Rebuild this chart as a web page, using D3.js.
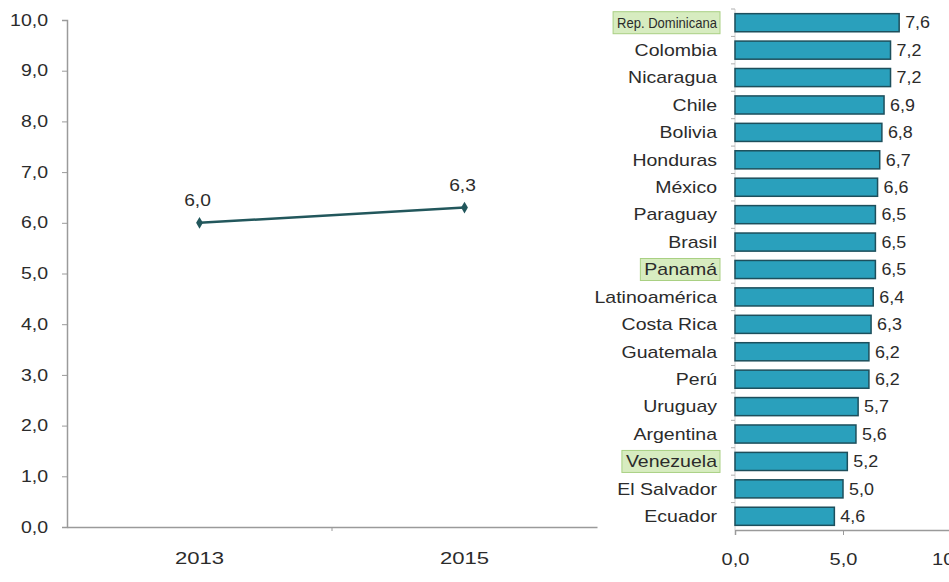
<!DOCTYPE html>
<html>
<head>
<meta charset="utf-8">
<script src="https://cdn.jsdelivr.net/npm/d3@7"></script>
<style>
  body { margin: 0; background: #fff; }
  svg { font-family: "Liberation Sans", Arial, sans-serif; }
</style>
</head>
<body>
<svg width="949" height="582"></svg>
<script>
// Left chart: average value by year
const years = ["2013", "2015"];
const yearValues = [6.0, 6.3];
const leftTicks = [0, 1, 2, 3, 4, 5, 6, 7, 8, 9, 10];

// Right chart: value by country (2015)
const countries = ["Rep. Dominicana", "Colombia", "Nicaragua", "Chile", "Bolivia", "Honduras",
    "México", "Paraguay", "Brasil", "Panamá", "Latinoamérica", "Costa Rica", "Guatemala",
    "Perú", "Uruguay", "Argentina", "Venezuela", "El Salvador", "Ecuador"];
const countryValues = [7.6, 7.2, 7.2, 6.9, 6.8, 6.7, 6.6, 6.5, 6.5, 6.5, 6.4, 6.3, 6.2, 6.2,
    5.7, 5.6, 5.2, 5.0, 4.6];
const highlighted = ["Rep. Dominicana", "Panamá", "Venezuela"];
const barTicks = [0, 5, 10];

const loc = d3.formatLocale({decimal: ",", thousands: ".", grouping: [3], currency: ["", ""]});
const fmt = loc.format(".1f");

const svg = d3.select("svg");
const textCol = "#2b2b2b";
const axisCol = "#9a9a9a";

// the source picture is a bit wide: stretch text sideways around its anchor
function stretch(sel, k) {
    sel.each(function() {
        const t = d3.select(this);
        const x0 = +t.attr("x") || 0;
        const kk = typeof k === "function" ? k(this) : k;
        t.attr("transform", `translate(${x0 * (1 - kk)},0) scale(${kk},1)`);
    });
}

// ---- left line chart ----
const x = d3.scaleBand().domain(years).range([67, 597]);
const y = d3.scaleLinear().domain([0, 10]).range([527, 20]);

const yAxis = svg.append("g")
    .attr("transform", "translate(67,0)")
    .call(d3.axisLeft(y).tickValues(leftTicks).tickFormat(fmt).tickSize(5).tickPadding(14));
const xAxis = svg.append("g")
    .attr("transform", "translate(0,527)")
    .call(d3.axisBottom(x).tickSize(0).tickPadding(25));
// middle tick between categories
xAxis.append("line")
    .attr("x1", x("2015")).attr("x2", x("2015"))
    .attr("y1", 0).attr("y2", 4)
    .attr("stroke", axisCol);

[yAxis, xAxis].forEach(g => {
    g.select(".domain").attr("stroke", axisCol).attr("stroke-width", 1.5);
    g.selectAll(".tick line").attr("stroke", axisCol);
    g.selectAll("text").attr("fill", textCol)
        .style("font-family", "'Liberation Sans', Arial, sans-serif");
});
yAxis.selectAll("text").style("font-size", "16px").call(stretch, 1.22);
xAxis.selectAll("text").style("font-size", "17px").call(stretch, 1.3);

const lineData = years.map((d, i) => ({year: d, value: yearValues[i]}));
const cx = d => x(d.year) + x.bandwidth() / 2;

svg.append("path")
    .datum(lineData)
    .attr("fill", "none")
    .attr("stroke", "#22575c")
    .attr("stroke-width", 2.5)
    .attr("d", d3.line().x(cx).y(d => y(d.value)));

svg.selectAll(".pt")
    .data(lineData)
    .join("path")
    .attr("class", "pt")
    .attr("transform", d => `translate(${cx(d)},${y(d.value)})`)
    .attr("d", d3.symbol(d3.symbolDiamond, 40))
    .attr("fill", "#22575c");

svg.selectAll(".ptlabel")
    .data(lineData)
    .join("text")
    .attr("class", "ptlabel")
    .attr("x", d => cx(d) - 2)
    .attr("y", d => y(d.value) - 17)
    .attr("text-anchor", "middle")
    .attr("fill", textCol)
    .style("font-size", "16px")
    .text(d => fmt(d.value))
    .call(stretch, 1.2);

// ---- right bar chart ----
const xb = d3.scaleLinear().domain([0, 10]).range([735, 951]);
const yb = d3.scaleBand().domain(countries).range([9, 530]).paddingInner(0.34).paddingOuter(0.17);

const bAxis = svg.append("g")
    .attr("transform", "translate(0,530)")
    .call(d3.axisBottom(xb).tickValues(barTicks).tickFormat(fmt).tickSize(5).tickPadding(19));
bAxis.select(".domain").attr("stroke", axisCol).attr("stroke-width", 1.5);
bAxis.selectAll(".tick line").attr("stroke", axisCol);
bAxis.selectAll("text").attr("fill", textCol).style("font-size", "16px")
    .style("font-family", "'Liberation Sans', Arial, sans-serif")
    .call(stretch, 1.25);

// vertical category axis with ticks between bars
const step = yb.step();
const gap = (step - yb.bandwidth()) / 2;
svg.append("line")
    .attr("x1", 735).attr("x2", 735)
    .attr("y1", yb(countries[0]) - gap).attr("y2", 530)
    .attr("stroke", "#d0d0d0");
svg.selectAll(".ctick")
    .data(countries)
    .join("line")
    .attr("class", "ctick")
    .attr("x1", 731).attr("x2", 735)
    .attr("y1", d => yb(d) - gap)
    .attr("y2", d => yb(d) - gap)
    .attr("stroke", "#b0b0b0");

const barData = countries.map((d, i) => ({name: d, value: countryValues[i]}));

svg.selectAll(".bar")
    .data(barData)
    .join("rect")
    .attr("class", "bar")
    .attr("x", xb(0))
    .attr("y", d => yb(d.name))
    .attr("width", d => xb(d.value) - xb(0))
    .attr("height", yb.bandwidth())
    .attr("fill", "#2aa0bc")
    .attr("stroke", "#1d4f5c")
    .attr("stroke-width", 1.5);

svg.selectAll(".vlabel")
    .data(barData)
    .join("text")
    .attr("class", "vlabel")
    .attr("x", d => xb(d.value) + 6)
    .attr("y", d => yb(d.name) + yb.bandwidth() / 2)
    .attr("dy", "0.36em")
    .attr("fill", textCol)
    .style("font-size", "16px")
    .text(d => fmt(d.value))
    .call(stretch, 1.12);

const labels = svg.selectAll(".clabel")
    .data(barData)
    .join("g")
    .attr("class", "clabel");

// boxed labels sit in a narrower box: a long one gets a smaller, squeezed font
const boxMaxW = 100;
const labelK = 1.22;
const kOf = {};
labels.append("text")
    .attr("x", 717)
    .attr("y", d => yb(d.name) + yb.bandwidth() / 2)
    .attr("dy", "0.36em")
    .attr("text-anchor", "end")
    .attr("fill", textCol)
    .style("font-size", "16px")
    .text(d => d.name)
    .each(function(d) {
        kOf[d.name] = labelK;
        if (!highlighted.includes(d.name)) return;
        if (this.getComputedTextLength() * labelK > boxMaxW) {
            d3.select(this).style("font-size", "14px");
            kOf[d.name] = boxMaxW / this.getComputedTextLength();
        }
    })
    .call(stretch, node => kOf[d3.select(node).datum().name]);

// green boxes behind the highlighted countries
labels.filter(d => highlighted.includes(d.name)).each(function(d) {
    const g = d3.select(this);
    const w = g.select("text").node().getComputedTextLength() * kOf[d.name];
    g.insert("rect", "text")
        .attr("x", 717 - w - 4)
        .attr("y", yb(d.name) + yb.bandwidth() / 2 - 11)
        .attr("width", w + 7)
        .attr("height", 22)
        .attr("fill", "#d7ecc0")
        .attr("stroke", "#a9d083")
        .attr("stroke-width", 1);
});
</script>
</body>
</html>
